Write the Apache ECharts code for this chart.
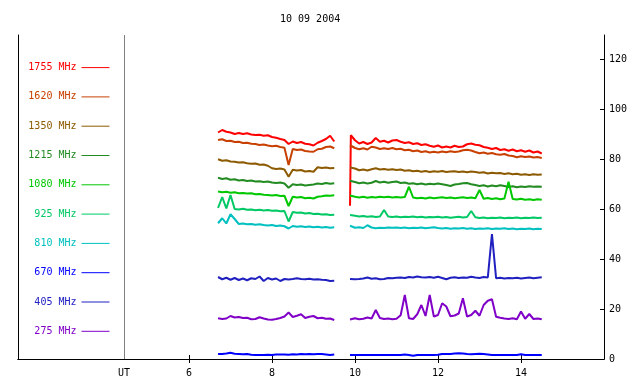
<!DOCTYPE html>
<html><head><meta charset="utf-8">
<script src="https://cdn.jsdelivr.net/npm/echarts@6/dist/echarts.min.js"></script>
<style>html,body{margin:0;padding:0;background:#fff}#c{width:640px;height:384px}</style>
</head><body><div id="c"></div>
<script>
// ---------- data ----------
const chartTitle = '10 09 2004';
const xTickValues = [6, 8, 10, 12, 14];
const yTickValues = [0, 20, 40, 60, 80, 100, 120];
const utLabel = 'UT';

// sample times (UT hours), first and second observing block
const t1 = [6.7,6.8,6.9,7.0,7.1,7.2,7.3,7.4,7.5,7.6,
            7.7,7.8,7.9,8.0,8.1,8.2,8.3,8.4,8.5,8.6,
            8.7,8.8,8.9,9.0,9.1,9.2,9.3,9.4,9.5];
const gapTime = 9.7;
const t2 = [9.88,9.9,10.0,10.1,10.2,10.3,10.4,10.5,10.6,10.7,
            10.8,10.9,11.0,11.1,11.2,11.3,11.4,11.5,11.6,11.7,
            11.8,11.9,12.0,12.1,12.2,12.3,12.4,12.5,12.6,12.7,
            12.8,12.9,13.0,13.1,13.2,13.3,13.4,13.5,13.6,13.7,
            13.8,13.9,14.0,14.1,14.2,14.3,14.4,14.5];

const names = ['1755 MHz','1620 MHz','1350 MHz','1215 MHz','1080 MHz','925 MHz','810 MHz','670 MHz','405 MHz','275 MHz'];

const mhz1755a = [90.6,91.6,90.9,90.6,90.0,90.4,90.0,90.3,89.8,89.6,
                  89.7,89.3,89.5,88.8,88.5,88.0,87.6,86.0,87.0,86.4,
                  86.8,86.1,85.9,85.4,86.5,87.2,88.0,89.3,87.0];
const mhz1755b = [61.3,89.5,87.5,86.2,86.8,86.0,86.6,88.4,86.9,87.3,
                  86.6,87.4,87.6,86.9,86.4,86.7,86.0,86.3,85.6,85.9,
                  85.3,84.9,85.4,84.6,85.0,84.6,85.3,84.8,85.0,85.9,
                  86.2,85.7,85.5,84.8,84.5,84.0,84.4,83.6,83.9,83.3,
                  83.8,83.1,83.5,82.9,83.4,82.6,83.0,82.2];

const mhz1620a = [87.6,87.9,87.2,87.3,86.8,86.9,86.4,86.5,86.1,86.0,
                  85.6,85.8,85.4,85.1,85.3,84.8,84.5,77.6,84.0,83.6,
                  83.8,83.2,83.0,82.9,83.9,84.1,84.8,85.0,84.3];
const mhz1620b = [85.5,85.5,84.4,83.9,84.3,83.8,84.9,84.6,84.0,84.3,
                  84.0,84.4,83.9,84.1,83.5,83.7,83.1,83.4,82.8,83.1,
                  82.6,82.9,82.6,83.0,82.7,83.1,82.8,83.0,83.5,83.7,
                  83.4,82.8,82.3,82.6,82.1,82.4,81.9,81.7,82.0,81.4,
                  81.2,80.7,81.1,80.8,81.0,80.6,80.8,80.4];

const mhz1350a = [79.9,79.3,79.5,79.0,78.9,78.6,78.7,78.3,78.1,78.2,
                  77.7,77.8,77.3,76.3,76.0,76.2,75.8,72.9,75.7,75.4,
                  75.6,75.0,75.2,74.9,76.7,76.4,76.6,76.3,76.4];
const mhz1350b = [76.6,77.0,76.2,75.5,75.8,75.4,75.9,76.3,75.8,76.0,
                  75.7,75.9,75.6,75.8,75.3,75.5,75.1,75.3,74.9,75.2,
                  74.8,75.1,74.9,75.2,74.8,75.0,75.1,74.8,75.0,74.7,
                  75.0,74.8,74.5,74.7,74.2,74.5,74.3,74.4,74.0,74.3,
                  73.9,74.1,73.7,73.9,73.6,73.9,73.7,73.8];

const mhz1215a = [72.5,72.0,72.3,71.7,71.9,71.4,71.6,71.2,71.4,71.0,
                  71.1,70.8,71.0,70.6,70.4,70.6,70.2,68.5,69.9,69.6,
                  69.8,69.4,69.6,69.8,70.2,70.0,70.4,70.1,70.3];
const mhz1215b = [71.3,71.5,70.8,70.3,70.6,70.2,70.5,71.2,70.6,70.9,
                  70.5,70.8,71.0,70.4,70.6,70.1,70.3,69.9,70.2,69.8,
                  70.1,69.9,70.2,69.9,69.6,69.2,69.8,70.0,70.3,70.4,
                  69.9,69.6,69.2,69.5,69.0,69.4,69.1,69.5,69.2,68.8,
                  69.1,68.7,69.0,68.8,69.1,68.9,69.0,68.9];

const mhz1080a = [67.0,66.7,66.9,66.5,66.7,66.3,66.4,66.2,66.3,65.9,
                  66.0,65.7,65.6,65.4,65.6,65.2,65.3,61.2,64.9,64.6,
                  64.8,64.3,64.5,64.2,64.9,65.1,65.4,65.3,65.5];
const mhz1080b = [65.4,65.4,64.9,64.6,64.9,64.5,64.8,64.6,64.9,64.7,
                  64.9,64.6,64.8,64.6,64.8,68.9,64.6,64.3,64.5,64.2,
                  64.6,64.3,64.5,64.7,64.4,64.6,64.3,64.5,64.7,64.4,
                  64.6,64.3,67.6,64.1,64.4,64.0,64.3,63.9,64.2,70.9,
                  64.0,63.8,64.1,63.7,63.9,63.6,63.9,63.7];

const mhz925a = [60.4,64.8,60.2,65.6,60.0,59.8,60.1,59.7,59.8,59.5,
                 59.7,59.4,59.6,59.3,59.4,59.1,59.2,55.0,58.8,58.5,
                 58.6,58.2,58.4,58.0,58.1,57.8,57.9,57.6,57.7];
const mhz925b = [57.6,57.7,57.3,57.0,57.2,56.9,57.1,56.8,57.0,59.6,
                 57.0,56.8,57.0,56.7,56.9,56.8,57.0,56.7,56.9,56.6,
                 56.8,56.7,56.9,56.6,56.8,56.5,56.7,56.9,56.6,56.8,
                 59.2,56.7,56.4,56.6,56.3,56.5,56.4,56.6,56.3,56.5,
                 56.4,56.6,56.3,56.5,56.4,56.6,56.4,56.5];

const mhz810a = [54.3,56.3,54.2,57.9,56.0,54.0,54.2,53.9,54.0,53.7,
                 53.9,53.6,53.4,53.6,53.2,53.4,53.1,52.2,53.2,52.9,
                 53.1,52.8,53.0,52.7,52.9,52.6,52.8,52.5,52.7];
const mhz810b = [53.3,53.0,52.5,52.7,52.4,53.5,52.6,52.3,52.5,52.4,
                 52.6,52.5,52.6,52.4,52.6,52.3,52.5,52.4,52.6,52.3,
                 52.5,52.7,52.4,52.2,52.4,52.1,52.3,52.2,52.4,52.1,
                 52.3,52.0,52.2,52.1,52.3,52.0,52.2,52.1,52.3,52.0,
                 52.2,51.9,52.1,52.0,52.2,51.9,52.1,52.0];

const mhz670a = [2.0,2.0,2.2,2.5,2.1,2.0,1.9,2.0,1.7,1.6,
                 1.6,1.6,1.7,1.6,1.8,1.8,1.8,1.7,1.9,1.8,
                 2.0,1.9,2.0,1.9,2.0,2.0,1.8,1.6,1.8];
const mhz670b = [1.6,1.6,1.6,1.6,1.6,1.6,1.6,1.6,1.6,1.6,
                 1.6,1.6,1.6,1.6,1.8,1.6,1.3,1.6,1.6,1.6,
                 1.6,1.6,1.7,2.0,2.0,2.0,2.2,2.3,2.2,2.0,
                 1.9,2.0,2.1,2.0,1.8,1.6,1.6,1.6,1.6,1.6,
                 1.6,1.6,1.9,1.6,1.6,1.6,1.6,1.6];

const mhz405a = [32.8,31.9,32.5,31.7,32.4,31.6,32.2,31.5,32.3,32.0,
                 33.0,31.2,32.4,31.8,32.2,31.2,32.0,31.8,32.0,32.3,
                 32.0,31.9,32.1,31.8,31.9,31.7,31.6,31.2,31.3];
const mhz405b = [32.0,32.2,31.9,32.0,32.2,32.6,32.1,32.3,31.9,32.0,
                 32.4,32.3,32.5,32.6,32.4,32.8,32.6,33.0,32.7,32.6,
                 32.8,32.5,32.9,32.4,31.9,32.5,32.7,32.4,32.6,32.5,
                 32.9,32.6,32.4,32.8,32.6,50.0,32.3,32.5,32.2,32.4,
                 32.3,32.5,32.2,32.4,32.6,32.3,32.5,32.7];

const mhz275a = [16.3,16.0,16.2,17.2,16.6,16.8,16.4,16.5,15.9,16.0,
                 16.7,16.2,15.8,15.7,16.0,16.4,17.0,18.6,16.8,17.3,
                 17.9,16.4,16.9,17.2,16.3,16.5,16.1,16.2,15.6];
const mhz275b = [15.8,16.0,16.3,15.9,16.1,16.6,16.2,19.6,16.4,16.0,
                 16.2,15.9,16.1,17.5,25.6,16.3,16.0,17.9,21.6,17.2,
                 25.6,17.0,17.6,22.3,21.0,17.1,17.4,18.2,24.3,17.0,
                 17.6,19.3,17.3,21.6,23.3,23.9,16.9,16.5,16.2,16.0,
                 16.3,15.9,19.0,16.1,18.0,16.0,16.2,15.9];

const valuesA = [mhz1755a, mhz1620a, mhz1350a, mhz1215a, mhz1080a, mhz925a, mhz810a, mhz670a, mhz405a, mhz275a];
const valuesB = [mhz1755b, mhz1620b, mhz1350b, mhz1215b, mhz1080b, mhz925b, mhz810b, mhz670b, mhz405b, mhz275b];

// ---------- style ----------
const colors = ['#ff0000','#c84000','#8c5a00','#228b22','#00c800','#00c864','#00c0c0','#0000ff','#2020c0','#8000c8'];
const FONT = 'DejaVu Sans Mono';
const XMIN = 6 - (189 - 18) / 41.5;
const XMAX = 16;
const YMAX = 129.6;
const UT_POS = 6 - (189 - 124) / 41.5;

function buildData(a, b) {
  return t1.map((t, i) => [t, a[i]])
    .concat([[gapTime, null]])
    .concat(t2.map((t, i) => [t, b[i]]));
}

const chart = echarts.init(document.getElementById('c'), null, {renderer: 'canvas'});
chart.setOption({
  animation: false,
  backgroundColor: '#ffffff',
  title: {
    text: chartTitle, left: 280, top: 14, padding: 0,
    textStyle: {fontFamily: FONT, fontSize: 10, fontWeight: 'normal', color: '#000'}
  },
  legend: {
    orient: 'vertical', align: 'right', right: 530, top: 62, padding: 0,
    itemWidth: 28, itemHeight: 14, itemGap: 18.1, selectedMode: false,
    textStyle: {fontFamily: FONT, fontSize: 10},
    itemStyle: {opacity: 0, borderWidth: 0},
    lineStyle: {width: 1},
    data: names.map((n, i) => ({name: n, textStyle: {color: colors[i]}}))
  },
  grid: {left: 18, right: 36, top: 35, bottom: 25, show: false},
  xAxis: [
    {
      type: 'value', min: XMIN, max: XMAX, position: 'bottom',
      axisLine: {show: true, lineStyle: {color: '#000', width: 1}},
      axisTick: {show: true, inside: true, length: 4, customValues: xTickValues, lineStyle: {color: '#000'}},
      axisLabel: {
        customValues: [UT_POS].concat(xTickValues), margin: 9,
        fontFamily: FONT, fontSize: 10, color: '#000',
        formatter: v => (v < 5 ? utLabel : String(Math.round(v)))
      },
      splitLine: {show: false}
    },
    {
      type: 'value', min: XMIN, max: XMAX, position: 'top',
      axisLine: {show: true, lineStyle: {color: '#000', width: 1}},
      axisTick: {show: true, inside: true, length: 4, customValues: xTickValues, lineStyle: {color: '#000'}},
      axisLabel: {show: false},
      splitLine: {show: false}
    }
  ],
  yAxis: [
    {
      type: 'value', min: 0, max: YMAX, position: 'right',
      axisLine: {show: true, lineStyle: {color: '#000', width: 1}},
      axisTick: {show: true, inside: true, length: 4, customValues: yTickValues, lineStyle: {color: '#000'}},
      axisLabel: {customValues: yTickValues, margin: 5, fontFamily: FONT, fontSize: 10, color: '#000'},
      splitLine: {show: false}
    },
    {
      type: 'value', min: 0, max: YMAX, position: 'left',
      axisLine: {show: true, lineStyle: {color: '#000', width: 1}},
      axisTick: {show: false}, axisLabel: {show: false}, splitLine: {show: false}
    }
  ],
  graphic: [{
    type: 'line', silent: true,
    shape: {x1: 124.5, y1: 35, x2: 124.5, y2: 359},
    style: {stroke: '#808080', lineWidth: 1}
  }],
  series: names.map((n, i) => ({
    name: n, type: 'line', xAxisIndex: 0, yAxisIndex: 0,
    symbol: 'none', silent: true, color: colors[i],
    lineStyle: {width: 2, color: colors[i]},
    emphasis: {disabled: true},
    data: buildData(valuesA[i], valuesB[i])
  }))
});
</script>
</body></html>
